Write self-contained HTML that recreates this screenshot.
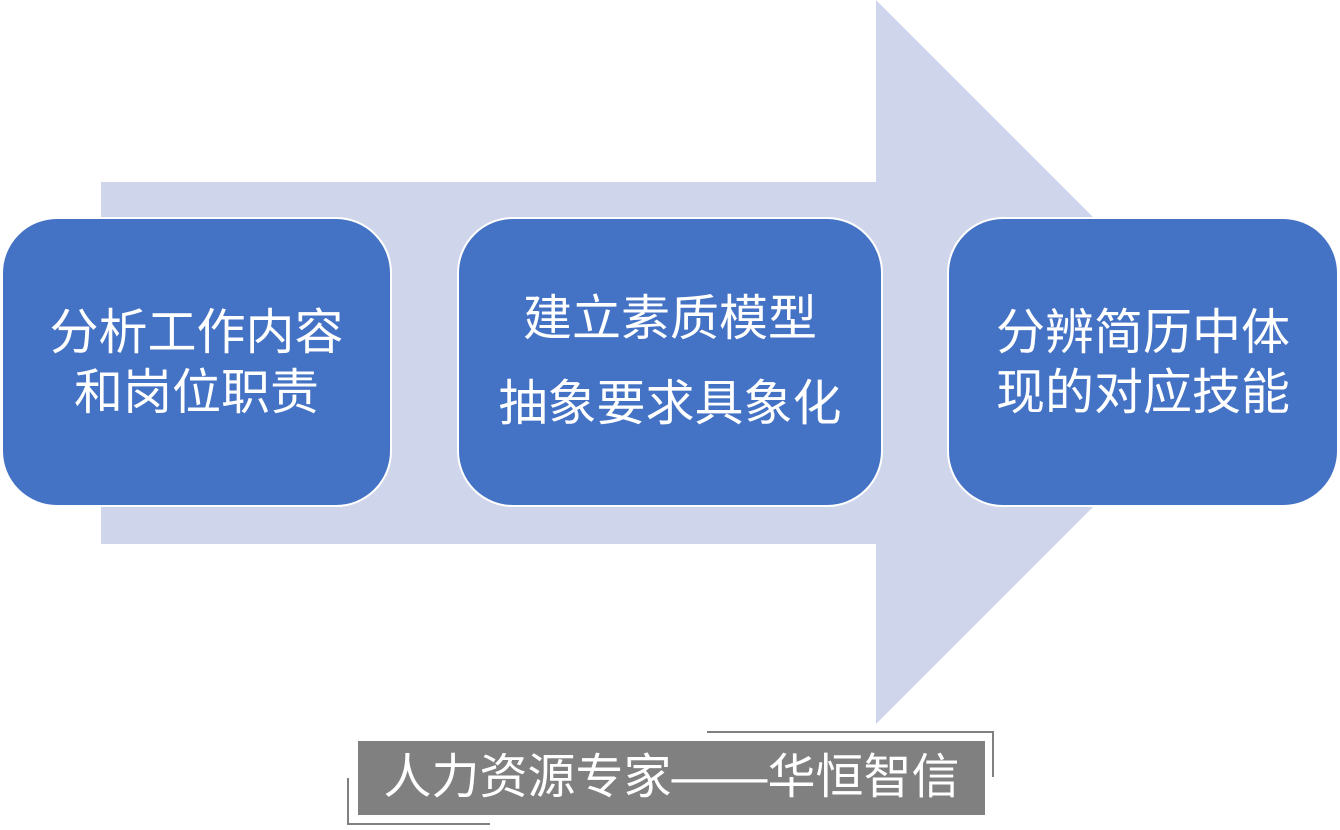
<!DOCTYPE html>
<html><head><meta charset="utf-8"><style>
body{margin:0;width:1340px;height:830px;background:#fff;position:relative;overflow:hidden;font-family:"Liberation Sans","Noto Sans CJK SC",sans-serif}
.b{position:absolute;top:217px;height:290px;background:#4472C4;border:2px solid #fff;border-radius:56px;box-sizing:border-box;color:#fff;font-size:49px;text-align:center;display:flex;flex-direction:column;justify-content:center;line-height:60px}
</style></head><body>
<svg width="1340" height="830" style="position:absolute;left:0;top:0">
<polygon points="101,182 876,182 876,0 1238,362 876,724 876,544 101,544" fill="#CFD5EA"/>
<rect x="358" y="741" width="627" height="74" fill="#808080"/>
<polyline points="707,732 993,732 993,777" fill="none" stroke="#808080" stroke-width="2"/>
<polyline points="348,778 348,824 490,824" fill="none" stroke="#808080" stroke-width="2"/>
</svg>
<div class="b" style="left:1px;width:391px;padding-top:2px">分析工作内容<br>和岗位职责</div>
<div class="b" style="left:457px;width:426px;line-height:85px">建立素质模型<br>抽象要求具象化</div>
<div class="b" style="left:947px;width:392px;padding-top:2px">分辨简历中体<br>现的对应技能</div>
<div style="position:absolute;left:358px;top:741px;width:627px;height:74px;color:#fff;font-size:48px;line-height:74px;text-align:center">人力资源专家——华恒智信</div>
</body></html>
